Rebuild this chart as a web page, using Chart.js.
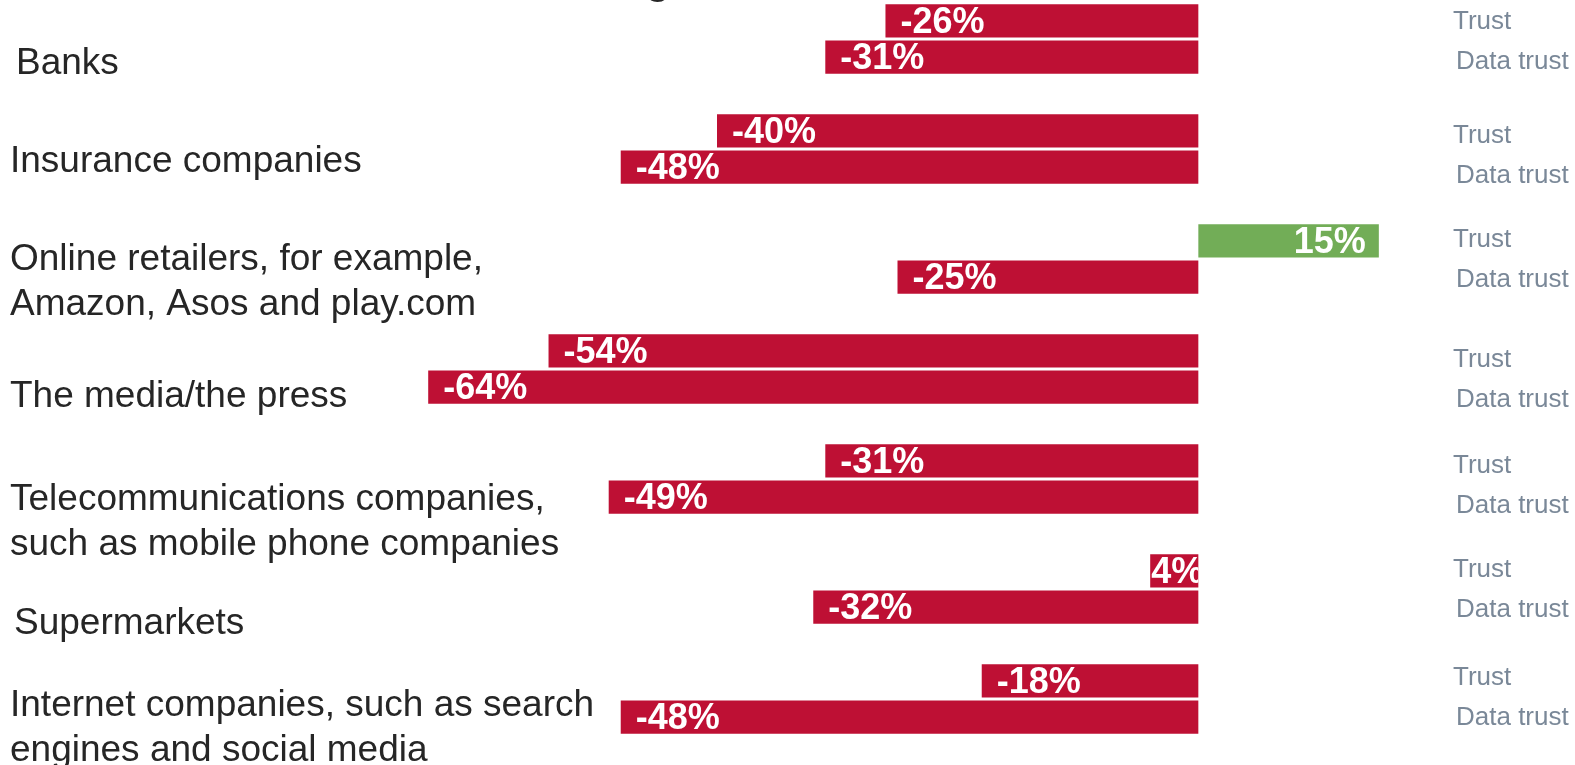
<!DOCTYPE html>
<html>
<head>
<meta charset="utf-8">
<script src="https://cdn.jsdelivr.net/npm/chart.js@4.4.1/dist/chart.umd.min.js"></script>
<style>
  html, body { margin: 0; padding: 0; background: #fff; overflow: hidden; }
  #wrap { position: absolute; left: 0; top: -60px; width: 1575px; height: 840px; }
</style>
</head>
<body>
<div id="wrap"><canvas id="trustChart" width="1575" height="840"></canvas></div>
<script>
// sectors, top to bottom
var sectors = [
  ["Banks"],
  ["Insurance companies"],
  ["Online retailers, for example,", "Amazon, Asos and play.com"],
  ["The media/the press"],
  ["Telecommunications companies,", "such as mobile phone companies"],
  ["Supermarkets"],
  ["Internet companies, such as search", "engines and social media"]
];
var seriesNames = ["Trust", "Data trust"];
// net scores in %
var trustValues = [-26, -40, 15, -54, -31, -4, -18];
var dataTrustValues = [-31, -48, -25, -64, -49, -32, -48];

// layout tweaks for the hand-placed text boxes
var labelNudge = [25, 13, 23, 28, 43, 35, 29];
var labelIndent = [16, 10, 10, 10, 10, 14, 10];
var sideNudge = [1, 5, -1, 9, 5, -1, -3];

var RED = "#be1034";
var GREEN = "#72ad57";

function barColours(vals) {
  return vals.map(function (v) { return v >= 0 ? GREEN : RED; });
}

var labelPlugin = {
  id: "trustLabels",
  afterDatasetsDraw: function (chart) {
    var ctx = chart.ctx;
    var yScale = chart.scales.y;

    // title, mostly above the visible page
    ctx.save();
    ctx.font = "bold 40px 'Liberation Sans', Arial, sans-serif";
    ctx.fillStyle = "#262626";
    ctx.textBaseline = "alphabetic";
    ctx.textAlign = "left";
    var title = "Trust in organisations";
    var gPos = title.indexOf("g");
    var tx = 658 - ctx.measureText(title.slice(0, gPos)).width - ctx.measureText("g").width / 2;
    ctx.fillText(title, tx, 54);
    ctx.restore();

    // value labels inside the bars
    chart.data.datasets.forEach(function (ds, di) {
      var meta = chart.getDatasetMeta(di);
      meta.data.forEach(function (bar, i) {
        var v = ds.data[i];
        var txt = v + "%";
        var left = Math.min(bar.x, bar.base);
        var right = Math.max(bar.x, bar.base);
        var top = bar.y - bar.height / 2;
        ctx.save();
        ctx.beginPath();
        ctx.rect(left, top, right - left, bar.height);
        ctx.clip();
        ctx.font = "bold 36px 'Liberation Sans', Arial, sans-serif";
        ctx.fillStyle = "#ffffff";
        ctx.textBaseline = "middle";
        var w = ctx.measureText(txt).width;
        if (w + 20 <= right - left) {
          if (v < 0) {
            ctx.textAlign = "left";
            ctx.fillText(txt, left + 15, bar.y + 2);
          } else {
            ctx.textAlign = "right";
            ctx.fillText(txt, right - 13, bar.y + 2);
          }
        } else {
          ctx.textAlign = "left";
          ctx.fillText(txt, left - ctx.measureText("-").width + 1, bar.y + 2);
        }
        ctx.restore();

        // series name on the right
        ctx.save();
        ctx.font = "26px 'Liberation Sans', Arial, sans-serif";
        ctx.fillStyle = "#7a8898";
        ctx.textBaseline = "middle";
        ctx.textAlign = "left";
        ctx.fillText(ds.label, di === 0 ? 1453 : 1456, bar.y + (di === 0 ? 0 : 4) + sideNudge[i]);
        ctx.restore();
      });
    });

    // sector names on the left
    ctx.save();
    ctx.font = "37px 'Liberation Sans', Arial, sans-serif";
    ctx.fillStyle = "#262626";
    ctx.textBaseline = "middle";
    ctx.textAlign = "left";
    sectors.forEach(function (lines, i) {
      var cy = yScale.getPixelForValue(i) + labelNudge[i];
      var lh = 45;
      var y0 = cy - (lines.length - 1) * lh / 2;
      lines.forEach(function (ln, k) {
        ctx.fillText(ln, labelIndent[i], y0 + k * lh);
      });
    });
    ctx.restore();
  }
};

new Chart(document.getElementById("trustChart"), {
  type: "bar",
  data: {
    labels: sectors.map(function (s) { return s.join(" "); }),
    datasets: [
      {
        label: seriesNames[0],
        data: trustValues,
        backgroundColor: barColours(trustValues),
        categoryPercentage: 0.658,
        barPercentage: 0.92
      },
      {
        label: seriesNames[1],
        data: dataTrustValues,
        backgroundColor: barColours(dataTrustValues),
        categoryPercentage: 0.658,
        barPercentage: 0.92
      }
    ]
  },
  options: {
    indexAxis: "y",
    responsive: false,
    animation: false,
    layout: { padding: { left: 356, right: 136, top: 44, bottom: 26 } },
    plugins: {
      legend: { display: false },
      tooltip: { enabled: false },
      title: { display: false }
    },
    scales: {
      x: { display: false, min: -70, max: 20 },
      y: { display: false, offset: true, grid: { display: false } }
    }
  },
  plugins: [labelPlugin]
});
</script>
</body>
</html>
